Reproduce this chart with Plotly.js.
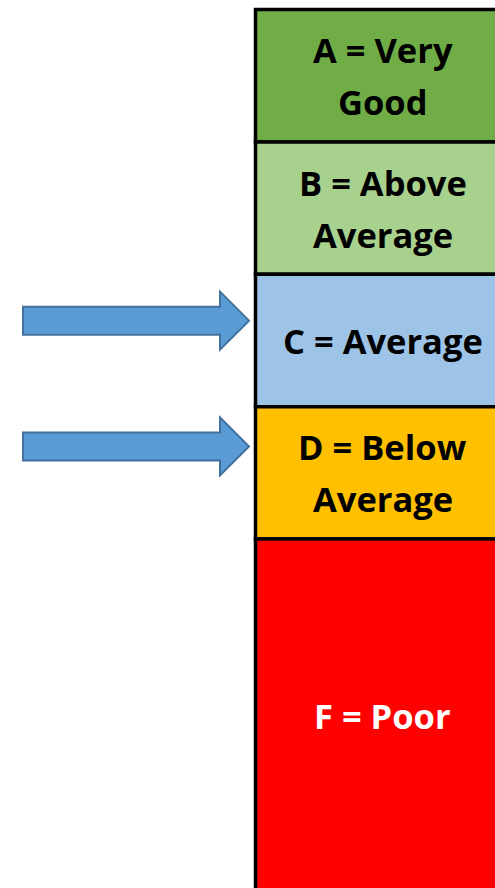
<!DOCTYPE html>
<html>
<head>
<meta charset="utf-8">
<script src="https://cdn.plot.ly/plotly-3.0.1.min.js"></script>
<style>html,body{margin:0;padding:0;background:#fff;}#chart{width:495px;height:888px;}</style>
</head>
<body>
<div id="chart"></div>
<script>
// Grade bands (top to bottom)
const grades = ['A', 'B', 'C', 'D', 'F'];
const labels = [['A = Very', 'Good'], ['B = Above', 'Average'], ['C = Average'], ['D = Below', 'Average'], ['F = Poor']];
const bandSizes = [1, 1, 1, 1, 2.7];
const fillColors = ['#70AD47', '#A9D18E', '#9DC3E6', '#FFC000', '#FF0000'];
const textColors = ['#000000', '#000000', '#000000', '#000000', '#FFFFFF'];
// positions (in band units) the arrows point to
const arrowBands = [2.35, 3.3];

const W = 495, H = 888;
const unitPx = 132.4, topPx = 9.5;
const bases = [];
let acc = 0;
bandSizes.forEach(s => { bases.push(acc); acc += s; });

const trace = {
  type: 'bar',
  x: grades.map(() => 0),
  y: bandSizes,
  base: bases,
  width: 1,
  marker: { color: fillColors, line: { color: '#000', width: 3.5 } },
  hoverinfo: 'skip',
  showlegend: false
};

const lineOffset = 26 / unitPx;
const annotations = [];
labels.forEach((lines, i) => {
  const c = bases[i] + bandSizes[i] / 2 + (i === 4 ? -0.02 : 0);
  const n = lines.length;
  lines.forEach((t, j) => {
    annotations.push({
      x: 0, y: c + (j - (n - 1) / 2) * 2 * lineOffset,
      xref: 'x', yref: 'y', text: '<b>' + t + '</b>', showarrow: false,
      font: { family: 'Open Sans, sans-serif', size: 34.5, color: textColors[i] },
      xanchor: 'center', yanchor: 'middle'
    });
  });
});

function arrowPath(yTip) {
  const ty = topPx + yTip * unitPx;
  const pts = [[23, ty - 14], [220, ty - 14], [220, ty - 29], [249, ty], [220, ty + 29], [220, ty + 14], [23, ty + 14]];
  return 'M' + pts.map(p => (p[0] / W).toFixed(5) + ',' + (1 - p[1] / H).toFixed(5)).join(' L') + ' Z';
}
const shapes = arrowBands.map(b => ({
  type: 'path', xref: 'paper', yref: 'paper', path: arrowPath(b),
  fillcolor: '#5B9BD5', line: { color: '#41719C', width: 2 }
}));

const pxPerUnitX = 254.5;
const layout = {
  width: W, height: H,
  margin: { l: 0, r: 0, t: 0, b: 0 },
  paper_bgcolor: '#fff', plot_bgcolor: '#fff',
  xaxis: { range: [-0.5 - 255.5 / pxPerUnitX, -0.5 + (W - 255.5) / pxPerUnitX], visible: false, fixedrange: true },
  yaxis: { range: [(H - topPx) / unitPx, -topPx / unitPx], visible: false, fixedrange: true },
  annotations: annotations,
  shapes: shapes
};

Plotly.newPlot('chart', [trace], layout, { displayModeBar: false, staticPlot: true });
</script>
</body>
</html>
